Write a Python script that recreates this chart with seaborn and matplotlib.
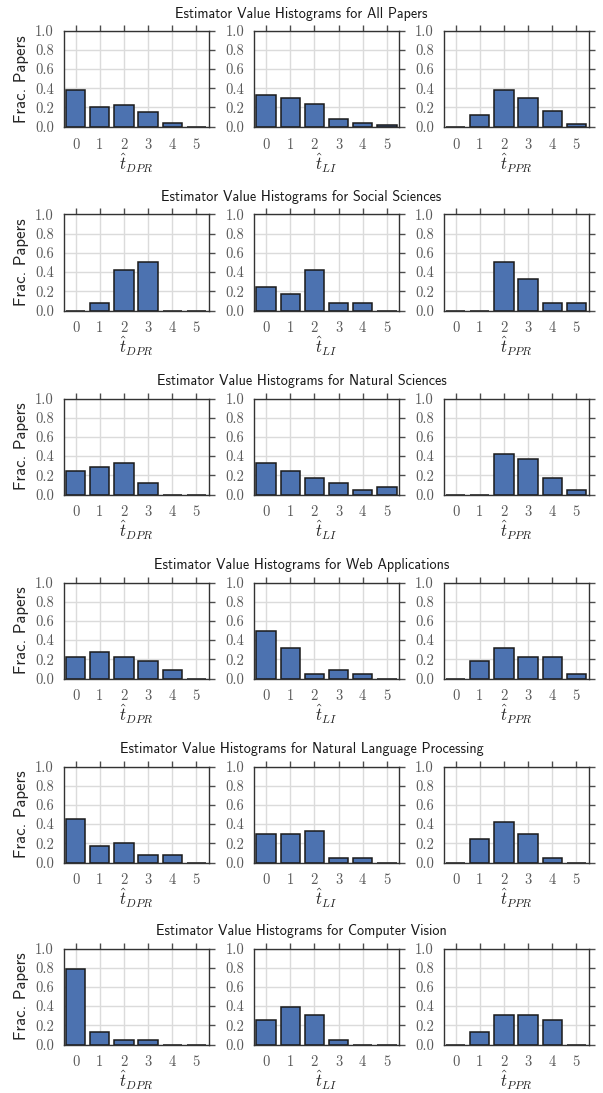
import numpy as np
import pandas as pd
import matplotlib
matplotlib.use("Agg")
import matplotlib.pyplot as plt
import seaborn as sns

# estimator values (x categories) and per-field fractions [DPR, LI, PPR]
values = [0, 1, 2, 3, 4, 5]
estimators = ["DPR", "LI", "PPR"]
xlabels = [r"$\hat{t}_{DPR}$", r"$\hat{t}_{LI}$", r"$\hat{t}_{PPR}$"]

fields = ["All Papers", "Social Sciences", "Natural Sciences",
          "Web Applications", "Natural Language Processing", "Computer Vision"]

all_papers = [[0.38, 0.20, 0.225, 0.15, 0.035, 0.0],
              [0.33, 0.295, 0.235, 0.075, 0.035, 0.02],
              [0.0, 0.12, 0.38, 0.30, 0.16, 0.025]]
social = [[0.0, 0.083, 0.417, 0.5, 0.0, 0.0],
          [0.25, 0.167, 0.417, 0.083, 0.083, 0.0],
          [0.0, 0.0, 0.5, 0.333, 0.083, 0.083]]
natural = [[0.25, 0.29, 0.333, 0.125, 0.0, 0.0],
           [0.333, 0.25, 0.167, 0.125, 0.042, 0.083],
           [0.0, 0.0, 0.417, 0.375, 0.167, 0.042]]
web = [[0.227, 0.273, 0.227, 0.182, 0.091, 0.0],
       [0.5, 0.318, 0.045, 0.091, 0.045, 0.0],
       [0.0, 0.182, 0.318, 0.227, 0.227, 0.045]]
nlp = [[0.458, 0.167, 0.208, 0.083, 0.083, 0.0],
       [0.292, 0.292, 0.333, 0.042, 0.042, 0.0],
       [0.0, 0.25, 0.417, 0.292, 0.042, 0.0]]
cv = [[0.783, 0.13, 0.043, 0.043, 0.0, 0.0],
      [0.26, 0.39, 0.304, 0.043, 0.0, 0.0],
      [0.0, 0.13, 0.304, 0.304, 0.26, 0.0]]

rows = [all_papers, social, natural, web, nlp, cv]

sns.set_style("whitegrid", {"axes.edgecolor": "0.2", "grid.color": "0.86"})
plt.rcParams["mathtext.fontset"] = "cm"
plt.rcParams["axes.formatter.use_mathtext"] = True

W, H = 603, 1093
fig = plt.figure(figsize=(W / 100, H / 100), dpi=100)

lefts = [63.5, 254, 443.5]
aw, ah = 145, 96
tops = [30.7, 214.5, 398.5, 582.5, 766.5, 948.5]

for r, (field, data) in enumerate(zip(fields, rows)):
    top = tops[r]
    fig.text(0.5, 1 - (top - 17) / H,
             "Estimator Value Histograms for " + field,
             ha="center", va="center", family="cmss10", fontsize=10.2, color="0.1")
    for c in range(3):
        ax = fig.add_axes([lefts[c] / W, 1 - (top + ah) / H, aw / W, ah / H])
        df = pd.DataFrame({"val": values, "frac": data[c]})
        sns.barplot(data=df, x="val", y="frac", ax=ax, color="#4c72b0",
                    saturation=1, edgecolor="0.1", linewidth=1.1, width=0.8)
        ax.set_xlim(-0.5, 5.5)
        ax.set_ylim(0, 1.0)
        ax.set_yticks([0.0, 0.2, 0.4, 0.6, 0.8, 1.0])
        ax.set_yticklabels(["0.0", "0.2", "0.4", "0.6", "0.8", "1.0"])
        ax.set_xticks(values)
        ax.set_xticklabels([str(v) for v in values])
        for lab in ax.get_xticklabels() + ax.get_yticklabels():
            lab.set_family("cmr10")
            lab.set_fontsize(10.5)
            lab.set_color("0.35")
        ax.tick_params(axis="both", which="major", direction="out", length=4,
                       width=1, color="0.3", top=True, right=True,
                       labeltop=False, labelright=False)
        ax.tick_params(axis="x", pad=4)
        ax.tick_params(axis="y", pad=3)
        ax.grid(True, color="0.86", linewidth=1)
        ax.set_axisbelow(True)
        for sp in ax.spines.values():
            sp.set_visible(True)
            sp.set_color("0.2")
            sp.set_linewidth(1)
        ax.set_xlabel(xlabels[c], fontsize=12, labelpad=-0.5)
        if c == 0:
            ax.set_ylabel("Frac. Papers", family="cmss10", fontsize=12, color="0.15", labelpad=4)
        else:
            ax.set_ylabel("")

fig.savefig("out.png", dpi=100)
